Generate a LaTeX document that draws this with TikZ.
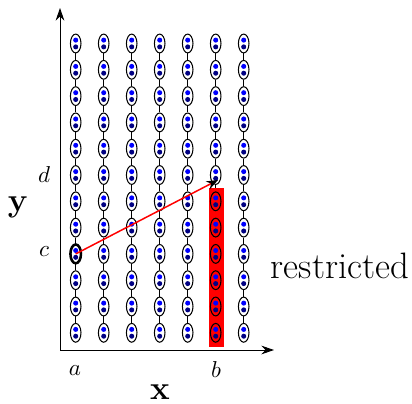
\documentclass[tikz,border=0pt]{standalone}
\usetikzlibrary{shapes.geometric,arrows.meta}
\pgfdeclarelayer{lines}
\pgfdeclarelayer{redlayer}
\pgfsetlayers{lines,redlayer,main}
\definecolor{dotblue}{RGB}{0,0,255}
\definecolor{dotnavy}{RGB}{0,0,130}
\begin{document}
\begin{tikzpicture}[x=0.435pt,y=-0.435pt,
  cell/.style={ellipse,draw,line width=0.45pt,minimum width=4.6pt,minimum height=8.2pt,inner sep=0pt},
  dotup/.style={circle,fill=dotblue,inner sep=0pt,minimum size=2.2pt},
  dotdown/.style={circle,fill=dotnavy,inner sep=0pt,minimum size=2.2pt},
  axis/.style={-{Stealth[length=5.5pt,width=3.8pt]}},
  lbl/.style={inner sep=1pt}]
\useasboundingbox (0,0) rectangle (412,403);
% cells
\foreach \i in {1,...,7}{
  \foreach \j in {0,...,11}{
    \pgfmathsetmacro\cx{75.7+28*(\i-1)}
    \pgfmathsetmacro\cy{43.5+26.3*\j}
    \node[cell] (e\i-\j) at (\cx,\cy) {};
    \node[dotup] (u\i-\j) at (\cx,\cy-3.4) {};
    \node[dotdown] (w\i-\j) at (\cx,\cy+3.4) {};
  }
}
% connectors
\begin{pgfonlayer}{lines}
\foreach \i in {1,...,7}{
  \foreach \j in {0,...,10}{
    \pgfmathtruncatemacro\k{\j+1}
    \draw (e\i-\j) -- (e\i-\k);
  }
}
\end{pgfonlayer}
% restricted region
\begin{pgfonlayer}{redlayer}
\fill[red] (209,188) rectangle (224,347);
\end{pgfonlayer}
% highlighted cell
\node[cell,line width=1.1pt] (hl) at (e1-8.center) {};
% axes
\coordinate (O) at (60,350);
\coordinate (ytip) at (60,8);
\coordinate (xtip) at (274,350);
\draw[axis] (O) -- (ytip);
\draw[axis] (O) -- (xtip);
% red arrow
\coordinate (tip) at (218,180);
\draw[red,line width=0.65pt,-{Stealth[black,length=5pt,width=3.8pt]}] (e1-8.center) -- (tip);
% labels
\node[lbl] (la) at (75,371) {$a$};
\node[lbl] (lb) at (216,370) {$b$};
\node[lbl] (lc) at (44,252) {$c$};
\node[lbl] (ld) at (44,175) {$d$};
\node[lbl] (lx) at (160,392) {\Large$\mathbf{x}$};
\node[lbl] (ly) at (18,207) {\Large$\mathbf{y}$};
\node[lbl] (lr) at (340,266) {\fontsize{16}{19}\selectfont restricted};
\end{tikzpicture}
\end{document}
